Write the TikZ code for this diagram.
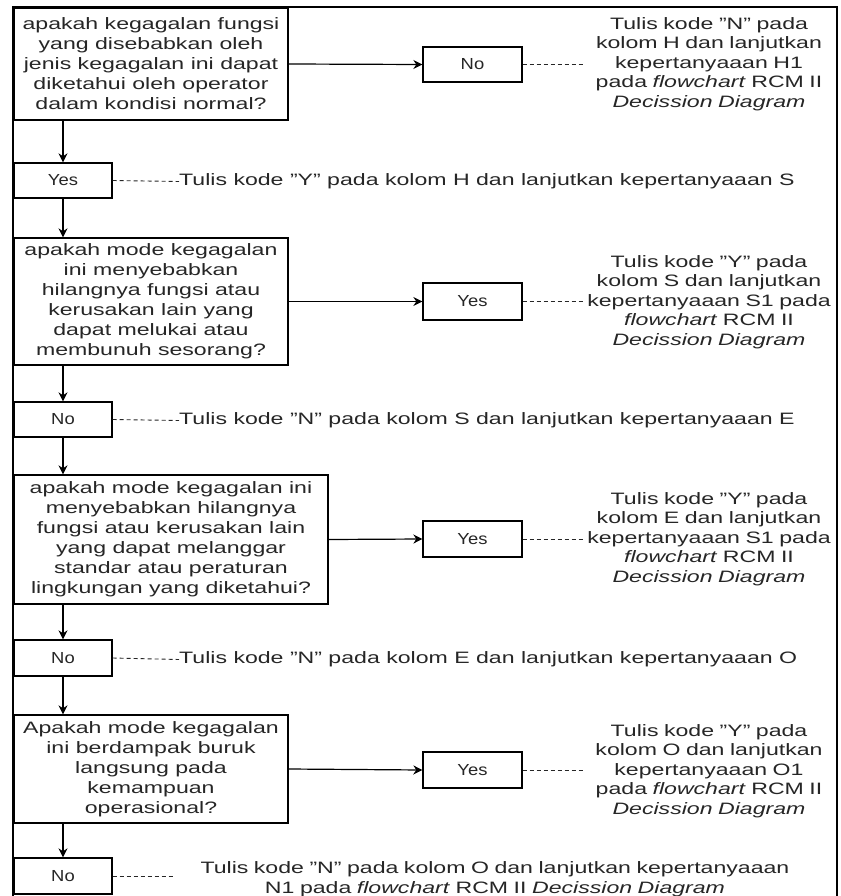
\documentclass[tikz,border=0pt]{standalone}
\usepackage{fontspec}
\setmainfont{Liberation Sans}[FakeStretch=1.4]
\newfontfamily\ynfont{Liberation Sans}[FakeStretch=1.15]
\usetikzlibrary{arrows.meta}
\definecolor{txt}{HTML}{262626}
\begin{document}
\begin{tikzpicture}[x=1pt,y=-1pt,
  qbox/.style={draw=black, line width=1.3pt, align=center, inner sep=0pt, text=txt,
    font=\fontsize{16.5}{20}\selectfont},
  ynbox/.style={draw=black, line width=1.3pt, minimum width=98pt, minimum height=35pt,
    inner sep=0pt, text=txt, font=\ynfont\fontsize{16}{18}\selectfont},
  note/.style={align=center, text width=250pt, inner sep=0pt, text=txt,
    font=\fontsize{16.5}{19.5}\selectfont},
  lnote/.style={anchor=west, inner sep=0pt, text=txt, font=\fontsize{16.5}{19.5}\selectfont},
  arr/.style={-{Stealth[length=9pt,width=9pt]}, line width=1.2pt},
  dline/.style={line width=0.9pt, dash pattern=on 4pt off 3pt, draw=black!85}
]
\useasboundingbox (0,0) rectangle (840,896);
\fill[white] (0,0) rectangle (840,896);

% frame
\draw[line width=2.5pt] (13,898) -- (13,7) -- (837,7) -- (837,898);

% block 1
\node[qbox, minimum width=274pt, minimum height=112pt] (q1) at (151,64)
  {apakah kegagalan fungsi\\yang disebabkan oleh\\jenis kegagalan ini dapat\\diketahui oleh operator\\dalam kondisi normal?};
\node[ynbox, minimum width=99pt] (n1) at (472.5,64.5) {No};
\node[note] (t1) at (709,64)
  {Tulis kode "N" pada\\kolom H dan lanjutkan\\kepertanyaaan H1\\pada \textit{flowchart} RCM II\\\textit{Decission Diagram}};
\node[ynbox] (y1) at (63,180.5) {Yes};
\node[lnote] (ty1) at (179,181.5) {Tulis kode "Y" pada kolom H dan lanjutkan kepertanyaaan S};

% block 2
\node[qbox, minimum width=274pt, minimum height=127pt] (q2) at (151,301.5)
  {apakah mode kegagalan\\ini menyebabkan\\hilangnya fungsi atau\\kerusakan lain yang\\dapat melukai atau\\membunuh sesorang?};
\node[ynbox, minimum width=99pt, minimum height=37pt] (y2) at (472.5,301.5) {Yes};
\node[note] (t2) at (709,302)
  {Tulis kode "Y" pada\\kolom S dan lanjutkan\\kepertanyaaan S1 pada\\\textit{flowchart} RCM II\\\textit{Decission Diagram}};
\node[ynbox] (n2) at (63,419.5) {No};
\node[lnote] (tn2) at (179,420.5) {Tulis kode "N" pada kolom S dan lanjutkan kepertanyaaan E};

% block 3
\node[qbox, minimum width=314pt, minimum height=129pt] (q3) at (171,539.5)
  {apakah mode kegagalan ini\\menyebabkan hilangnya\\fungsi atau kerusakan lain\\yang dapat melanggar\\standar atau peraturan\\lingkungan yang diketahui?};
\node[ynbox, minimum width=99pt, minimum height=36pt] (y3) at (472.5,539) {Yes};
\node[note] (t3) at (709,539)
  {Tulis kode "Y" pada\\kolom E dan lanjutkan\\kepertanyaaan S1 pada\\\textit{flowchart} RCM II\\\textit{Decission Diagram}};
\node[ynbox, minimum height=36pt] (n3) at (63,658) {No};
\node[lnote] (tn3) at (179,659.5) {Tulis kode "N" pada kolom E dan lanjutkan kepertanyaaan O};

% block 4
\node[qbox, minimum width=274pt, minimum height=108pt] (q4) at (151,769)
  {Apakah mode kegagalan\\ini berdampak buruk\\langsung pada\\kemampuan\\operasional?};
\node[ynbox, minimum width=99pt, minimum height=36pt] (y4) at (472.5,770) {Yes};
\node[note] (t4) at (709,771)
  {Tulis kode "Y" pada\\kolom O dan lanjutkan\\kepertanyaaan O1\\pada \textit{flowchart} RCM II\\\textit{Decission Diagram}};
\node[ynbox, minimum height=36pt] (n4) at (63,876) {No};
\node[note, text width=640pt] (tn4) at (495,879)
  {Tulis kode "N" pada kolom O dan lanjutkan kepertanyaaan\\N1 pada \textit{flowchart} RCM II \textit{Decission Diagram}};

% arrows
\draw[arr] (q1.east) -- (n1.west);
\draw[arr] (q1.south -| y1.north) -- (y1.north);
\draw[arr] (y1.south) -- (y1.south |- q2.north);
\draw[arr] (q2.east) -- (y2.west);
\draw[arr] (q2.south -| n2.north) -- (n2.north);
\draw[arr] (n2.south) -- (n2.south |- q3.north);
\draw[arr] (q3.east) -- (y3.west);
\draw[arr] (q3.south -| n3.north) -- (n3.north);
\draw[arr] (n3.south) -- (n3.south |- q4.north);
\draw[arr] (q4.east) -- (y4.west);
\draw[arr] (q4.south -| n4.north) -- (n4.north);

% dashed
\draw[dline] (n1.east) -- (t1.west |- n1.east);
\draw[dline] (y1.east) -- (ty1.west);
\draw[dline] (y2.east) -- (t2.west |- y2.east);
\draw[dline] (n2.east) -- (tn2.west);
\draw[dline] (y3.east) -- (t3.west |- y3.east);
\draw[dline] (n3.east) -- (tn3.west);
\draw[dline] (y4.east) -- (t4.west |- y4.east);
\draw[dline] (n4.east) -- (tn4.west |- n4.east);
\end{tikzpicture}
\end{document}
